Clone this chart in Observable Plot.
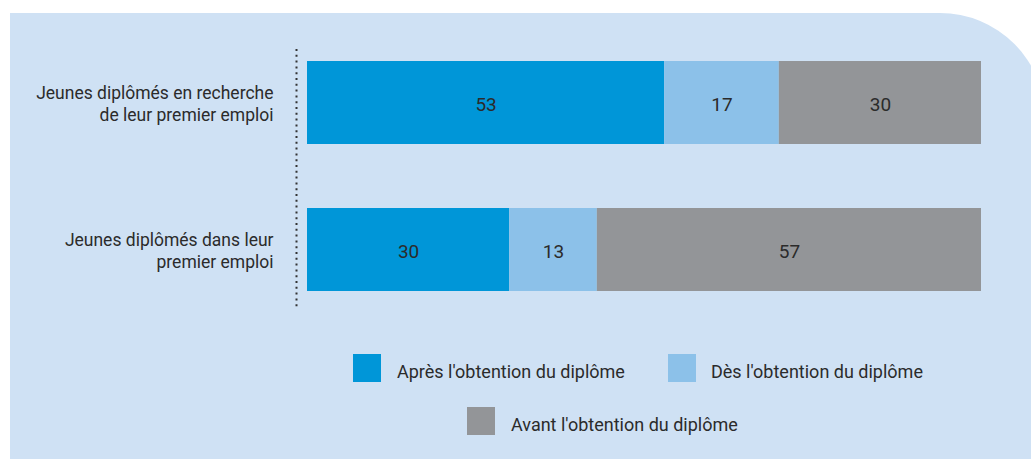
<!DOCTYPE html>
<html>
<head>
<meta charset="utf-8">
<script src="https://cdn.jsdelivr.net/npm/d3@7"></script>
<script src="https://cdn.jsdelivr.net/npm/@observablehq/plot@0.6"></script>
<style>
  html, body { margin: 0; padding: 0; background: #ffffff; }
  #wrap { position: relative; width: 1031px; height: 459px; overflow: hidden; font-family: Roboto, "Open Sans", sans-serif; }
  #panel { position: absolute; left: 10px; top: 13px; width: 1035px; height: 470px; background: #cfe1f4; border-top-right-radius: 105px; }
  #chart { position: absolute; left: 0; top: 0; }
  .sw { position: absolute; width: 28px; height: 28px; }
  .lt { position: absolute; font-size: 18px; color: #2b2b2b; line-height: 28px; white-space: nowrap; }
</style>
</head>
<body>
<div id="wrap">
  <div id="panel"></div>
  <div id="chart"></div>
  <div id="legend"></div>
</div>
<script>
const categories = [
  "Jeunes diplômés en recherche\nde leur premier emploi",
  "Jeunes diplômés dans leur\npremier emploi"
];
const series = ["Après l'obtention du diplôme", "Dès l'obtention du diplôme", "Avant l'obtention du diplôme"];
const colors = ["#0096d8", "#8cc1e9", "#939598"];
const valuesApres = [53, 30];
const valuesDes = [17, 13];
const valuesAvant = [30, 57];

const data = [];
const seriesValues = [valuesApres, valuesDes, valuesAvant];
categories.forEach((c, i) => {
  series.forEach((s, j) => data.push({cat: c, series: s, value: seriesValues[j][i]}));
});

const chart = Plot.plot({
  width: 1031,
  height: 459,
  marginLeft: 307,
  marginRight: 50,
  marginTop: 29,
  marginBottom: 136,
  style: {background: "transparent", fontFamily: "Roboto, 'Open Sans', sans-serif", color: "#2b2b2b"},
  x: {domain: [0, 100], axis: null},
  y: {domain: categories, paddingInner: 0.435, paddingOuter: 0.2175, label: null},
  color: {domain: series, range: colors},
  marks: [
    Plot.ruleX([0], {dx: -11, insetTop: 20, insetBottom: 14, stroke: "#333", strokeWidth: 2, strokeDasharray: "2,3.8"}),
    Plot.barX(data, Plot.stackX({x: "value", y: "cat", fill: "series", z: "series"})),
    Plot.text(data, Plot.stackX({x: "value", y: "cat", z: "series", text: d => String(d.value), fontSize: 19, dy: 2, fill: "#2b2b2b"})),
    Plot.axisY({tickSize: 0, tickPadding: 34, fontSize: 17.5, lineHeight: 1.27, label: null, fill: "#2b2b2b"})
  ]
});
document.getElementById("chart").appendChild(chart);

// Legend
const legend = document.getElementById("legend");
const legendPos = [
  {sx: 353, sy: 354, tx: 397},
  {sx: 668, sy: 354, tx: 711},
  {sx: 467, sy: 407, tx: 511}
];
series.forEach((s, i) => {
  const p = legendPos[i];
  const sw = document.createElement("div");
  sw.className = "sw";
  sw.style.left = p.sx + "px"; sw.style.top = p.sy + "px"; sw.style.background = colors[i];
  legend.appendChild(sw);
  const t = document.createElement("div");
  t.className = "lt";
  t.style.left = p.tx + "px"; t.style.top = (p.sy + 4) + "px";
  t.textContent = s;
  legend.appendChild(t);
});
</script>
</body>
</html>
